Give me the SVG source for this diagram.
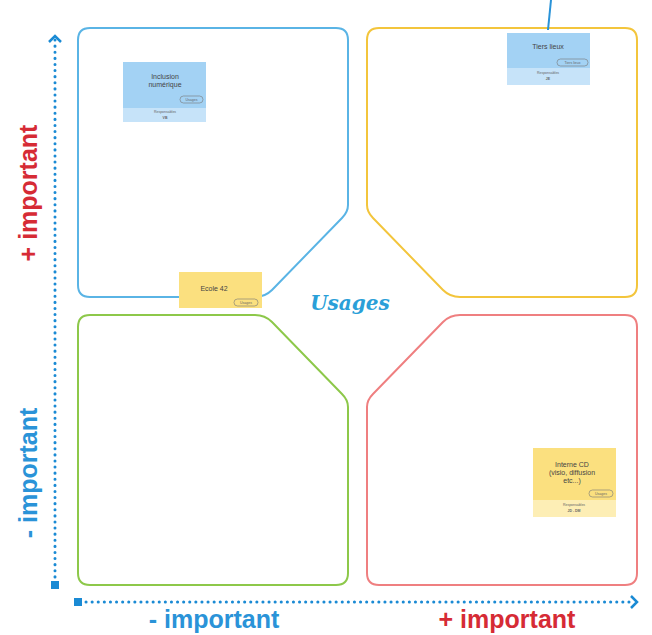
<svg xmlns="http://www.w3.org/2000/svg" width="652" height="635" viewBox="0 0 652 635">
<style>
.q{fill:none;stroke-width:2}
.axis{fill:none;stroke:#1a8ad4;stroke-width:3;stroke-dasharray:0.1 6;stroke-linecap:round}
.lbl{font-family:"Liberation Sans",Arial,sans-serif;font-weight:bold;font-size:25px;text-anchor:middle}
.red{fill:#d62b35}
.blue{fill:#2a93d8}
.ct{font-family:"Liberation Sans",Arial,sans-serif;font-size:7px;fill:#444;text-anchor:middle}
.st{font-family:"Liberation Sans",Arial,sans-serif;font-size:3.5px;fill:#666;text-anchor:middle}
.tag{fill:none;stroke:#777;stroke-width:0.6}
</style>
<rect width="652" height="635" fill="#ffffff"/>
<g id="axes">
<line class="axis" x1="55" y1="40" x2="55" y2="580"/>
<path d="M49 42 L55 36 L61 42" fill="none" stroke="#1a8ad4" stroke-width="2.5"/>
<rect x="51" y="581" width="8" height="8" fill="#1a8ad4"/>
<line class="axis" x1="86" y1="602" x2="632" y2="602"/>
<path d="M631 596 L637 602 L631 608" fill="none" stroke="#1a8ad4" stroke-width="2.5"/>
<rect x="74" y="598" width="8" height="8" fill="#1a8ad4"/>
</g>
<g id="labels">
<text class="lbl red" transform="translate(37 193) rotate(-90)">+ important</text>
<text class="lbl blue" transform="translate(37 473) rotate(-90)">- important</text>
<text class="lbl blue" x="214" y="628">- important</text>
<text class="lbl red" x="507" y="628">+ important</text>
</g>
<g id="quadrant-tl">
<path class="q" stroke="#5ab4e5" d="M90 28 H336 Q348 28 348 40 V205 Q348 212 342 218 L272 290 Q265 297 255 297 H90 Q78 297 78 285 V40 Q78 28 90 28 Z"/>
</g>
<g id="quadrant-tr">
<path class="q" stroke="#f3c53c" d="M379 28 H625 Q637 28 637 40 V285 Q637 297 625 297 H460 Q450 297 443 290 L373 218 Q367 212 367 205 V40 Q367 28 379 28 Z"/>
</g>
<g id="quadrant-bl">
<path class="q" stroke="#8dc84a" d="M90 315 H255 Q265 315 272 322 L342 394 Q348 400 348 407 V573 Q348 585 336 585 H90 Q78 585 78 573 V327 Q78 315 90 315 Z"/>
</g>
<g id="quadrant-br">
<path class="q" stroke="#ef7f80" d="M460 315 H625 Q637 315 637 327 V573 Q637 585 625 585 H379 Q367 585 367 573 V407 Q367 400 373 394 L443 322 Q450 315 460 315 Z"/>
</g>
<g id="usages-title">
<text x="350" y="310" font-family="'DejaVu Serif',serif" font-style="italic" font-weight="bold" font-size="20" fill="#2a9fd8" text-anchor="middle">Usages</text>
</g>
<g id="connectors">
<line x1="551" y1="0" x2="548" y2="30" stroke="#2a93d8" stroke-width="2"/>
</g>
<g id="card-inclusion">
<rect x="123" y="62" width="83" height="46" fill="#a3d2f4"/>
<rect x="123" y="108" width="83" height="14" fill="#c6e3f9"/>
<text class="ct" x="165" y="79">Inclusion</text>
<text class="ct" x="165" y="87">numérique</text>
<rect class="tag" x="180" y="96" width="23" height="7" rx="3.5"/>
<text class="st" x="191.5" y="100.8">Usages</text>
<text class="st" x="165" y="113">Responsables</text>
<text class="st" x="165" y="119" font-weight="bold" fill="#333">VB</text>
</g>
<g id="card-tiers">
<rect x="507" y="33" width="83" height="35" fill="#a3d2f4"/>
<rect x="507" y="68" width="83" height="17" fill="#c6e3f9"/>
<text class="ct" x="548" y="49">Tiers lieux</text>
<rect class="tag" x="557" y="59" width="31" height="7" rx="3.5"/>
<text class="st" x="572.5" y="63.8">Tiers lieux</text>
<text class="st" x="548" y="74">Responsables</text>
<text class="st" x="548" y="80" font-weight="bold" fill="#333">JE</text>
</g>
<g id="card-ecole">
<rect x="179" y="272" width="83" height="36" fill="#fbe07f"/>
<text class="ct" x="214" y="291">Ecole 42</text>
<rect class="tag" x="234" y="299" width="24" height="7" rx="3.5"/>
<text class="st" x="246" y="303.8">Usages</text>
</g>
<g id="card-interne">
<rect x="533" y="448" width="83" height="52" fill="#fbe07f"/>
<rect x="533" y="500" width="83" height="17" fill="#fdeeb5"/>
<text class="ct" x="572" y="467">Interne CD</text>
<text class="ct" x="572" y="475">(visio, diffusion</text>
<text class="ct" x="572" y="483">etc...)</text>
<rect class="tag" x="589" y="490" width="24" height="7" rx="3.5"/>
<text class="st" x="601" y="494.8">Usages</text>
<text class="st" x="574" y="506">Responsables</text>
<text class="st" x="574" y="512" font-weight="bold" fill="#333">JD - DM</text>
</g>
</svg>
